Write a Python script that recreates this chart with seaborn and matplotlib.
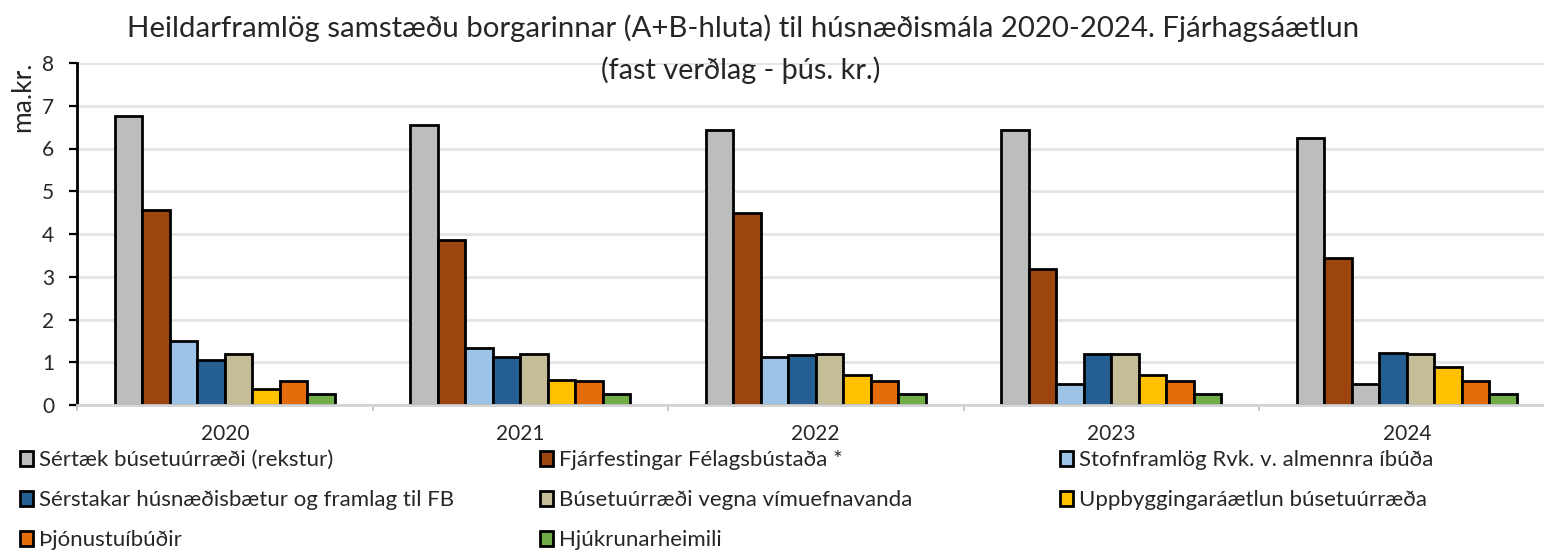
import matplotlib
matplotlib.use("Agg")
import matplotlib.pyplot as plt
import seaborn as sns
import pandas as pd
from matplotlib.patches import Patch
from matplotlib.ticker import FixedLocator

# Ár (flokkar á x-ás)
years = ["2020", "2021", "2022", "2023", "2024"]

# Útgjaldaflokkar (ma.kr.)
series_names = [
    "Sértæk búsetuúrræði (rekstur)",
    "Fjárfestingar Félagsbústaða *",
    "Stofnframlög Rvk. v. almennra íbúða",
    "Sérstakar húsnæðisbætur og framlag til FB",
    "Búsetuúrræði vegna vímuefnavanda",
    "Uppbyggingaráætlun búsetuúrræða",
    "Þjónustuíbúðir",
    "Hjúkrunarheimili",
]

sertaek = [6.75, 6.54, 6.43, 6.43, 6.25]
fjarfestingar = [4.56, 3.87, 4.48, 3.18, 3.45]
stofnframlog = [1.50, 1.33, 1.12, 0.50, 0.50]
husnaedisbaetur = [1.05, 1.12, 1.16, 1.19, 1.22]
vimuefni = [1.19, 1.19, 1.19, 1.19, 1.19]
uppbygging = [0.37, 0.58, 0.71, 0.71, 0.88]
thjonustuibudir = [0.55, 0.55, 0.55, 0.55, 0.55]
hjukrun = [0.26, 0.26, 0.26, 0.26, 0.26]

series_values = [sertaek, fjarfestingar, stofnframlog, husnaedisbaetur,
                 vimuefni, uppbygging, thjonustuibudir, hjukrun]

colors = ["#BDBDBD", "#9C450E", "#9DC3E6", "#255E91",
          "#C4BD97", "#FFC000", "#E46C0A", "#70AD47"]

df = pd.DataFrame({
    "ar": [y for _ in series_names for y in years],
    "flokkur": [s for s in series_names for _ in years],
    "gildi": [v for vals in series_values for v in vals],
})

sns.set_theme(style="white")
plt.rcParams["font.family"] = ["Lato", "DejaVu Sans"]

W, H = 1544, 552
fig = plt.figure(figsize=(W / 100, H / 100), dpi=100)
ax = fig.add_axes([77 / W, 147 / H, (W - 77) / W, 342 / H])

sns.barplot(data=df, x="ar", y="gildi", hue="flokkur", order=years,
            hue_order=series_names, palette=colors, width=0.744,
            saturation=1, edgecolor="black", linewidth=2.0,
            errorbar=None, legend=False, ax=ax)

# 2024 stofnframlög bar shown in grey
ax.containers[2][4].set_facecolor(colors[0])

ax.set_xlim(-0.5, -0.5 + (W - 77) / 295.5)
ax.set_ylim(0, 8)
ax.set_yticks(range(0, 9))
ax.yaxis.grid(True, color="#E3E3E3", linewidth=2)
ax.set_axisbelow(True)
ax.set_xlabel("")
ax.set_ylabel("")

for side in ["top", "right"]:
    ax.spines[side].set_visible(False)
ax.spines["left"].set_color("black")
ax.spines["left"].set_linewidth(2)
ax.spines["bottom"].set_color("#D4D4D4")
ax.spines["bottom"].set_linewidth(2)

ax.tick_params(axis="y", which="major", direction="out", length=5.5,
               width=1.6, color="black", labelsize=15, pad=11,
               labelcolor="#262626", left=True)
ax.tick_params(axis="x", which="major", length=0, labelsize=15, pad=14,
               labelcolor="#262626")
ax.xaxis.set_minor_locator(FixedLocator([i - 0.5 for i in range(6)]))
ax.tick_params(axis="x", which="minor", direction="out", length=4,
               width=1.2, color="#BFBFBF", bottom=True)

# Titill
fig.text(743 / W, 1 - 28 / H,
         "Heildarframlög samstæðu borgarinnar (A+B-hluta) til húsnæðismála 2020-2024. Fjárhagsáætlun",
         ha="center", va="center", fontsize=21.2, color="#262626")
fig.text(741 / W, 1 - 70 / H, "(fast verðlag - þús. kr.)",
         ha="center", va="center", fontsize=20.8, color="#262626")

# Y-ás merking
fig.text(23 / W, 1 - 97 / H, "ma.kr.", rotation=90, ha="center",
         va="center", fontsize=19, color="#262626")

# Skýringar í þremur dálkum, raðað lárétt
col_x = [20, 540, 1060]
row_y = [460, 500, 540]
for i, (name, col) in enumerate(zip(series_names, colors)):
    r, c = divmod(i, 3)
    handle = Patch(facecolor=col, edgecolor="black", linewidth=2.0)
    fig.legend([handle], [name], loc="center left",
               bbox_to_anchor=(col_x[c] / W, 1 - row_y[r] / H),
               frameon=False, fontsize=16, handlelength=0.6,
               handleheight=0.65, handletextpad=0.25, borderpad=0,
               borderaxespad=0, labelcolor="#262626")

fig.savefig("out.png", dpi=100)
